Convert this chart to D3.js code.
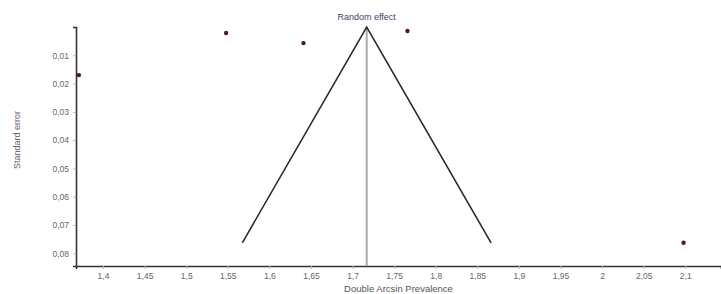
<!DOCTYPE html>
<html>
<head>
<meta charset="utf-8">
<script src="https://cdn.jsdelivr.net/npm/d3@7"></script>
<style>
  html, body { margin: 0; padding: 0; background: #fff; }
  svg { display: block; font-family: "Liberation Sans", Arial, sans-serif; }
</style>
</head>
<body>
<svg id="chart" width="721" height="294"></svg>
<script>
// Study data (double arcsine prevalence and standard error)
const studyEffects = [1.371, 1.548, 1.641, 1.766, 2.098];
const studySE = [0.0170, 0.0021, 0.0057, 0.0014, 0.0763];
const pooledEffect = 1.717;
const pooledLabel = "Random effect";
const xTicks = [1.4, 1.45, 1.5, 1.55, 1.6, 1.65, 1.7, 1.75, 1.8, 1.85, 1.9, 1.95, 2, 2.05, 2.1];
const yTicks = [0.01, 0.02, 0.03, 0.04, 0.05, 0.06, 0.07, 0.08];
const xTitle = "Double Arcsin Prevalence";
const yTitle = "Standard error";

(function () {
  const svg = d3.select("#chart");
  const mL = 76, mR = 721, mT = 27, mB = 266;

  const loc = d3.formatLocale({decimal: ",", thousands: ".", grouping: [3], currency: ["", ""]});
  const fmt = v => loc.format("~g")(v);

  const x = d3.scaleLinear().domain([1.3675, 2.143]).range([mL, mR]);
  const y = d3.scaleLinear().domain([0, 0.0845]).range([mT, mB]);

  const xAxis = d3.axisBottom(x).tickValues(xTicks).tickFormat(fmt).tickSize(3).tickPadding(4);
  const yAxis = d3.axisLeft(y).tickValues(yTicks).tickFormat(fmt).tickSize(3).tickPadding(4);

  const gx = svg.append("g").attr("transform", `translate(0,${mB})`).call(xAxis);
  const gy = svg.append("g").attr("transform", `translate(${mL},0)`).call(yAxis);

  [gx, gy].forEach(g => {
    g.select(".domain").attr("stroke", "#333").attr("stroke-width", 1.6);
    g.selectAll(".tick line").attr("stroke", "#bbb");
    g.selectAll(".tick text").attr("fill", "#666").attr("font-size", 8.5);
  });

  // Vertical line at pooled effect
  svg.append("line")
    .attr("x1", x(pooledEffect)).attr("x2", x(pooledEffect))
    .attr("y1", y(0)).attr("y2", mB)
    .attr("stroke", "#aaa").attr("stroke-width", 2);

  // Funnel lines
  const maxSE = d3.max(studySE);
  const funnel = [
    [pooledEffect - 1.96 * maxSE, maxSE],
    [pooledEffect, 0],
    [pooledEffect + 1.96 * maxSE, maxSE]
  ];
  svg.append("path")
    .attr("d", d3.line().x(d => x(d[0])).y(d => y(d[1]))(funnel))
    .attr("fill", "none").attr("stroke", "#2b2b2b").attr("stroke-width", 1.6);

  svg.append("text")
    .attr("x", x(pooledEffect)).attr("y", 20)
    .attr("text-anchor", "middle")
    .attr("font-size", 9).attr("fill", "#3f3f66")
    .text(pooledLabel);

  svg.append("g").selectAll("circle")
    .data(studyEffects.map((e, i) => [e, studySE[i]]))
    .join("circle")
    .attr("cx", d => x(d[0])).attr("cy", d => y(d[1]))
    .attr("r", 2.2).attr("fill", "#4a1c22");

  svg.append("text")
    .attr("x", (mL + mR) / 2).attr("y", 292)
    .attr("text-anchor", "middle")
    .attr("font-size", 9.5).attr("fill", "#555")
    .text(xTitle);

  svg.append("text")
    .attr("transform", `translate(20,140) rotate(-90)`)
    .attr("text-anchor", "middle")
    .attr("font-size", 9).attr("fill", "#666")
    .text(yTitle);
})();
</script>
</body>
</html>
